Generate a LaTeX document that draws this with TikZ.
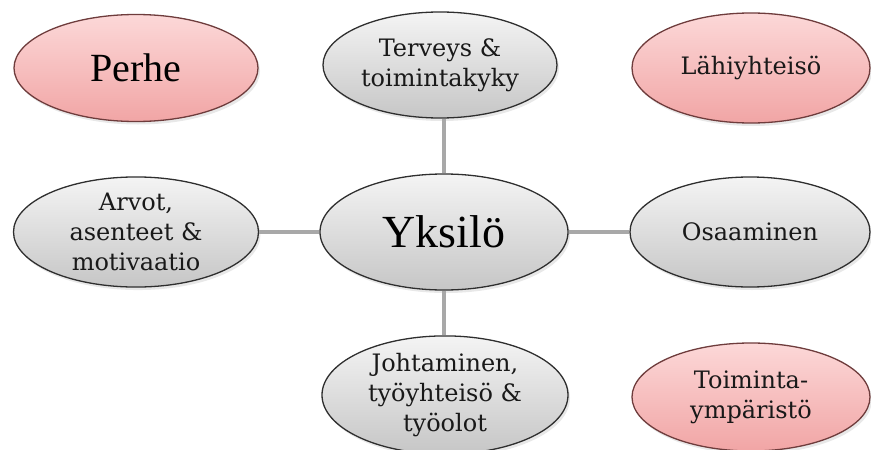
\documentclass[tikz,border=0pt]{standalone}
\usepackage{fontspec}
\setmainfont{Liberation Serif}
\newfontfamily\slabfont{DejaVu Serif}
\usetikzlibrary{shapes.geometric,shadows}
\definecolor{grayedge}{HTML}{2E2E2E}
\definecolor{graytop}{HTML}{F4F4F4}
\definecolor{graybot}{HTML}{C6C6C6}
\definecolor{pinkedge}{HTML}{6E3C3C}
\definecolor{pinktop}{HTML}{FCD8D8}
\definecolor{pinkbot}{HTML}{F1A5A5}
\definecolor{connc}{HTML}{A8A8A8}
\tikzset{
  oval/.style={ellipse, inner sep=0pt, align=center, line width=1.3pt,
    drop shadow={shadow xshift=2pt, shadow yshift=-3pt, opacity=0.18}},
  grayoval/.style={oval, draw=grayedge, top color=graytop, bottom color=graybot},
  pinkoval/.style={oval, draw=pinkedge, top color=pinktop, bottom color=pinkbot},
  small/.style={font=\slabfont\fontsize{24}{30}\selectfont, text=black!90},
  conn/.style={draw=connc, line width=4pt}
}
\begin{document}
\begin{tikzpicture}[x=1pt,y=-1pt]
\useasboundingbox (0,0) rectangle (871,450);
% nodes
\node[pinkoval, minimum width=244pt, minimum height=107pt,
  font=\fontsize{40}{44}\selectfont] (perhe) at (136,68) {Perhe};
\node[grayoval, small, minimum width=234pt, minimum height=106pt] (terv) at (440,65)
  {Terveys \&\\toimintakyky};
\node[pinkoval, small, minimum width=238pt, minimum height=110pt] (lahi) at (751,68)
  {Lähiyhteisö};
\node[grayoval, minimum width=248pt, minimum height=116pt,
  font=\fontsize{46}{50}\selectfont] (yks) at (444,232) {Yksilö};
\node[grayoval, small, minimum width=245pt, minimum height=110pt] (arvot) at (136,232)
  {Arvot,\\asenteet \&\\motivaatio};
\node[grayoval, small, minimum width=240pt, minimum height=110pt] (osaa) at (750,232)
  {Osaaminen};
\node[grayoval, small, minimum width=246pt, minimum height=106pt] (joht) at (445,395)
  {Johtaminen,\\työyhteisö \&\\työolot};
\node[pinkoval, small, minimum width=238pt, minimum height=108pt] (toim) at (751,397)
  {Toiminta-\\ympäristö};
% connectors
\draw[conn] (yks.north) -- (yks.north |- terv.south);
\draw[conn] (yks.south) -- (yks.south |- joht.north);
\draw[conn] (yks.west) -- (arvot.east);
\draw[conn] (yks.east) -- (osaa.west);
\end{tikzpicture}
\end{document}
